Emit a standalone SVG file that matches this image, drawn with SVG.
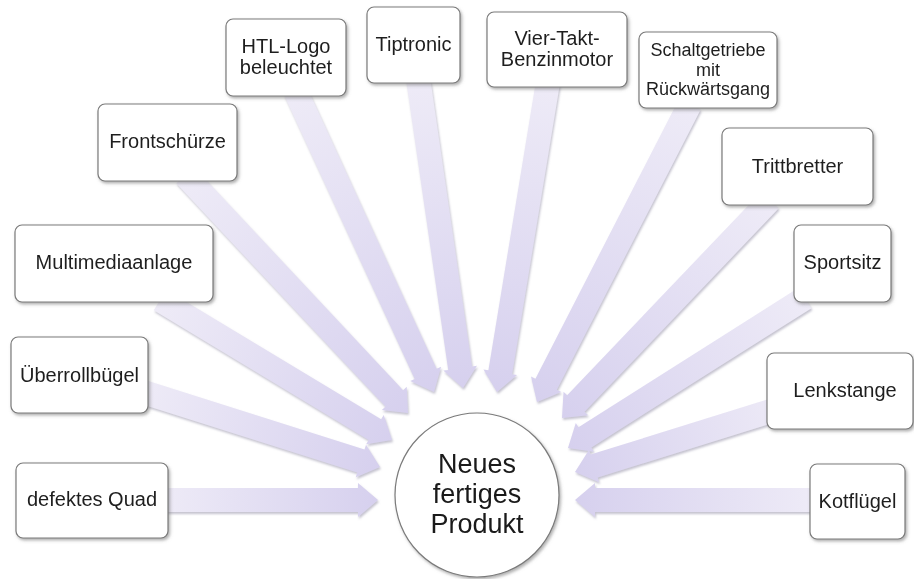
<svg xmlns="http://www.w3.org/2000/svg" width="914" height="579" viewBox="0 0 914 579">
  <defs>
    <linearGradient id="arrowFill" x1="0" y1="0" x2="1" y2="0">
      <stop offset="0" stop-color="#eeebf7"/>
      <stop offset="1" stop-color="#d6d0ee"/>
    </linearGradient>
    <filter id="shadow" x="-10%" y="-10%" width="130%" height="130%">
      <feDropShadow dx="1.5" dy="2" stdDeviation="1.5" flood-color="#6f6f6f" flood-opacity="0.55"/>
    </filter>
    <filter id="arrowShadow" x="-5%" y="-5%" width="115%" height="115%">
      <feDropShadow dx="1" dy="2" stdDeviation="1.2" flood-color="#8a86a0" flood-opacity="0.5"/>
    </filter>
  </defs>
  <style>
    .box { fill: #ffffff; stroke: #7a7a7a; stroke-width: 1.2; filter: url(#shadow); }
    .hub { fill: #ffffff; stroke: #7a7a7a; stroke-width: 1.2; filter: url(#shadow); }
    .arrow { fill: url(#arrowFill); }
    .lbl { font-family: "Liberation Sans", Arial, sans-serif; font-size: 20px; fill: #1e1e1e; text-anchor: middle; }
    .small { font-size: 18px; }
    .hubtxt { font-family: "Liberation Sans", Arial, sans-serif; font-size: 27px; fill: #1a1a1a; text-anchor: middle; }
  </style>
  <rect width="914" height="579" fill="#ffffff"/>

  <!-- block arrows pointing from each part towards the product -->
  <g id="connectors" filter="url(#arrowShadow)">
    <polygon class="arrow" transform="translate(160,500) rotate(0)" points="0,-12 198,-12 198,-17 218,0 198,17 198,12 0,12"/>
    <polygon class="arrow" transform="translate(815,500) rotate(180)" points="0,-12 220,-12 220,-17 240,0 220,17 220,12 0,12"/>
    <polygon class="arrow" transform="translate(140,391) rotate(17.57)" points="0,-12 231.7,-12 231.7,-17 251.7,0 231.7,17 231.7,12 0,12"/>
    <polygon class="arrow" transform="translate(160,300) rotate(31.1)" points="0,-12 251,-12 251,-17 271,0 251,17 251,12 0,12"/>
    <polygon class="arrow" transform="translate(185,175) rotate(46.86)" points="0,-12 306.1,-12 306.1,-17 326.1,0 306.1,17 306.1,12 0,12"/>
    <polygon class="arrow" transform="translate(295,90) rotate(65.29)" points="0,-12 312.5,-12 312.5,-17 332.5,0 312.5,17 312.5,12 0,12"/>
    <polygon class="arrow" transform="translate(418,78) rotate(81.74)" points="0,-12 293.2,-12 293.2,-17 313.2,0 293.2,17 293.2,12 0,12"/>
    <polygon class="arrow" transform="translate(548,82) rotate(99.34)" points="0,-12 294.2,-12 294.2,-17 314.2,0 294.2,17 294.2,12 0,12"/>
    <polygon class="arrow" transform="translate(690,104) rotate(117.18)" points="0,-12 315,-12 315,-17 335,0 315,17 315,12 0,12"/>
    <polygon class="arrow" transform="translate(770,200) rotate(133.65)" points="0,-12 281.3,-12 281.3,-17 301.3,0 281.3,17 281.3,12 0,12"/>
    <polygon class="arrow" transform="translate(805,298) rotate(147.67)" points="0,-12 260.5,-12 260.5,-17 280.5,0 260.5,17 260.5,12 0,12"/>
    <polygon class="arrow" transform="translate(790,405) rotate(162.69)" points="0,-12 205.2,-12 205.2,-17 225.2,0 205.2,17 205.2,12 0,12"/>
  </g>

  <g id="produkt">
    <circle class="hub" cx="477" cy="495" r="82"/>
    <text class="hubtxt" x="477" y="473">Neues</text>
    <text class="hubtxt" x="477" y="503">fertiges</text>
    <text class="hubtxt" x="477" y="533">Produkt</text>
  </g>

  <g id="defektes-quad">
    <rect class="box" x="16" y="463" width="152" height="75" rx="7"/>
    <text class="lbl" x="92" y="506">defektes Quad</text>
  </g>
  <g id="ueberrollbuegel">
    <rect class="box" x="11" y="337" width="137" height="76" rx="7"/>
    <text class="lbl" x="79.5" y="382">Überrollbügel</text>
  </g>
  <g id="multimediaanlage">
    <rect class="box" x="15" y="225" width="198" height="77" rx="7"/>
    <text class="lbl" x="114" y="269">Multimediaanlage</text>
  </g>
  <g id="frontschuerze">
    <rect class="box" x="98" y="104" width="139" height="77" rx="7"/>
    <text class="lbl" x="167.5" y="148">Frontschürze</text>
  </g>
  <g id="htl-logo">
    <rect class="box" x="226" y="19" width="120" height="77" rx="7"/>
    <text class="lbl" x="286" y="53">HTL-Logo</text>
    <text class="lbl" x="286" y="74">beleuchtet</text>
  </g>
  <g id="tiptronic">
    <rect class="box" x="367" y="7" width="93" height="76" rx="7"/>
    <text class="lbl" x="413.5" y="51">Tiptronic</text>
  </g>
  <g id="motor">
    <rect class="box" x="487" y="12" width="140" height="75" rx="7"/>
    <text class="lbl" x="557" y="45">Vier-Takt-</text>
    <text class="lbl" x="557" y="66">Benzinmotor</text>
  </g>
  <g id="schaltgetriebe">
    <rect class="box" x="639" y="32" width="138" height="76" rx="7"/>
    <text class="lbl small" x="708" y="55.5">Schaltgetriebe</text>
    <text class="lbl small" x="708" y="75.5">mit</text>
    <text class="lbl small" x="708" y="95">Rückwärtsgang</text>
  </g>
  <g id="trittbretter">
    <rect class="box" x="722" y="128" width="151" height="77" rx="7"/>
    <text class="lbl" x="797.5" y="173">Trittbretter</text>
  </g>
  <g id="sportsitz">
    <rect class="box" x="794" y="225" width="97" height="77" rx="7"/>
    <text class="lbl" x="842.5" y="269">Sportsitz</text>
  </g>
  <g id="lenkstange">
    <rect class="box" x="767" y="353" width="146" height="76" rx="7"/>
    <text class="lbl" x="845" y="397">Lenkstange</text>
  </g>
  <g id="kotfluegel">
    <rect class="box" x="810" y="464" width="95" height="75" rx="7"/>
    <text class="lbl" x="857.5" y="508">Kotflügel</text>
  </g>
</svg>
